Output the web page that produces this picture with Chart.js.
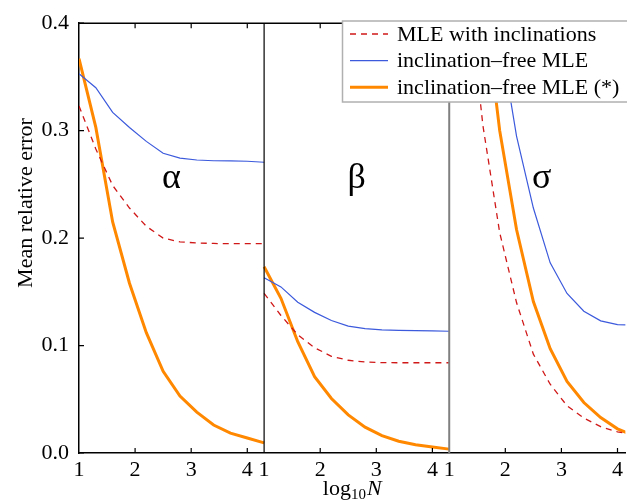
<!DOCTYPE html>
<html>
<head>
<meta charset="utf-8">
<script src="https://cdn.jsdelivr.net/npm/chart.js@4.4.1/dist/chart.umd.min.js"></script>
<style>
html, body { margin: 0; padding: 0; background: #fff; overflow: hidden; }
</style>
</head>
<body>
<canvas id="graph1" width="627" height="501"></canvas>
<script>
// log10 N sample points, same for every panel
var logN = [1, 1.3, 1.6, 1.9, 2.2, 2.5, 2.8, 3.1, 3.4, 3.7, 4.0, 4.3];
var xTicks = [1, 2, 3, 4];
var yTicks = [0, 0.1, 0.2, 0.3, 0.4];
var panelNames = ['α', 'β', 'σ'];
var seriesNames = ['MLE with inclinations', 'inclination–free MLE', 'inclination–free MLE (*)'];

var mleInclAlpha = [0.323, 0.283, 0.249, 0.228, 0.211, 0.200, 0.1965, 0.1955, 0.195, 0.1948, 0.1948, 0.1948];
var mleInclBeta = [0.1485, 0.128, 0.110, 0.098, 0.090, 0.0863, 0.0847, 0.0841, 0.084, 0.084, 0.084, 0.084];
var mleInclSigma = [0.62, 0.45, 0.305, 0.205, 0.140, 0.092, 0.064, 0.044, 0.0325, 0.0245, 0.0197, 0.017];

var freeAlpha = [0.353, 0.340, 0.317, 0.303, 0.290, 0.279, 0.2745, 0.2727, 0.272, 0.2718, 0.2715, 0.2706];
var freeBeta = [0.1631, 0.1546, 0.1403, 0.1309, 0.1233, 0.1181, 0.1157, 0.1145, 0.1142, 0.1139, 0.1136, 0.1133];
var freeSigma = [1.0, 0.75, 0.53, 0.39, 0.295, 0.228, 0.177, 0.1485, 0.132, 0.123, 0.1195, 0.119];

var freeStarAlpha = [0.367, 0.303, 0.215, 0.158, 0.112, 0.076, 0.053, 0.038, 0.026, 0.0185, 0.014, 0.0094];
var freeStarBeta = [0.1734, 0.144, 0.1036, 0.0711, 0.0507, 0.0355, 0.024, 0.0161, 0.0109, 0.0076, 0.0055, 0.0036];
var freeStarSigma = [0.75, 0.58, 0.43, 0.30, 0.208, 0.141, 0.097, 0.0665, 0.047, 0.033, 0.0225, 0.016];

var span = 3.3;              // each panel shows log10 N from 1 to 4.3
var xEnd = 2 * span + 3.14;  // last panel is cut by the page edge
var serif = '"Liberation Serif", "Times New Roman", serif';

function panelData(lists) {
  var pts = [];
  lists.forEach(function (vals, p) {
    vals.forEach(function (v, i) {
      pts.push({x: logN[i] - 1 + p * span, y: v});
    });
    pts.push({x: (p + 1) * span, y: null});
  });
  return pts;
}

function tickLabel(value) {
  var p = Math.floor(value / span + 1e-6);
  return String(Math.round(value - p * span + 1));
}

var framePlugin = {
  id: 'frame',
  afterDatasetsDraw: function (chart) {
    var ctx = chart.ctx, a = chart.chartArea;
    var xs = chart.scales.x, ys = chart.scales.y;
    ctx.save();

    // panel separators
    ctx.strokeStyle = '#000';
    ctx.lineWidth = 1.2;
    var s1 = xs.getPixelForValue(span);
    ctx.beginPath(); ctx.moveTo(s1, a.top); ctx.lineTo(s1, a.bottom); ctx.stroke();
    ctx.strokeStyle = '#808080';
    ctx.lineWidth = 2;
    var s2 = xs.getPixelForValue(2 * span);
    ctx.beginPath(); ctx.moveTo(s2, a.top); ctx.lineTo(s2, a.bottom); ctx.stroke();

    // top border
    ctx.strokeStyle = '#000';
    ctx.lineWidth = 1.5;
    ctx.beginPath(); ctx.moveTo(a.left, a.top); ctx.lineTo(a.right, a.top); ctx.stroke();

    // inward ticks
    ctx.lineWidth = 1.2;
    ctx.beginPath();
    for (var p = 0; p < 3; p++) {
      xTicks.forEach(function (t) {
        if (t === 1) return;
        var px = xs.getPixelForValue(t - 1 + p * span);
        if (px > a.right) return;
        ctx.moveTo(px, a.bottom); ctx.lineTo(px, a.bottom - 5);
        ctx.moveTo(px, a.top); ctx.lineTo(px, a.top + 5);
      });
    }
    yTicks.forEach(function (t) {
      var py = ys.getPixelForValue(t);
      ctx.moveTo(a.left, py); ctx.lineTo(a.left + 5, py);
    });
    ctx.stroke();

    // panel symbols
    ctx.fillStyle = '#000';
    ctx.font = '36px ' + serif;
    ctx.textAlign = 'center';
    ctx.textBaseline = 'alphabetic';
    panelNames.forEach(function (name, p) {
      ctx.fillText(name, xs.getPixelForValue(1.65 + p * span), ys.getPixelForValue(0.247));
    });

    // legend
    var lx = 342.5, ly = 21;
    ctx.fillStyle = '#fff';
    ctx.fillRect(lx, ly, 300, 81);
    ctx.strokeStyle = '#b0b0b0';
    ctx.lineWidth = 1.5;
    ctx.strokeRect(lx, ly, 300, 81);
    ctx.font = '22px ' + serif;
    ctx.textAlign = 'left';
    ctx.textBaseline = 'middle';
    chart.data.datasets.forEach(function (ds, i) {
      var ry = ly + 13 + i * 26.6;
      ctx.strokeStyle = ds.borderColor;
      ctx.lineWidth = ds.borderWidth;
      ctx.setLineDash(ds.borderDash || []);
      ctx.beginPath(); ctx.moveTo(lx + 7.5, ry); ctx.lineTo(lx + 45.5, ry); ctx.stroke();
      ctx.setLineDash([]);
      ctx.fillStyle = '#000';
      ctx.fillText(ds.label, lx + 54.5, ry + 1);
    });

    // y title
    ctx.save();
    ctx.translate(31.5, 203);
    ctx.rotate(-Math.PI / 2);
    ctx.textAlign = 'center';
    ctx.textBaseline = 'alphabetic';
    ctx.font = '22px ' + serif;
    ctx.fillText('Mean relative error', 0, 0);
    ctx.restore();

    // x title: log10 N
    var f1 = '22px ' + serif, f2 = '15px ' + serif, f3 = 'italic 22px ' + serif;
    ctx.textAlign = 'left';
    ctx.textBaseline = 'alphabetic';
    ctx.font = f1; var w1 = ctx.measureText('log').width;
    ctx.font = f2; var w2 = ctx.measureText('10').width;
    ctx.font = f3; var w3 = ctx.measureText('N').width;
    var x0 = (a.left + a.right) / 2 - (w1 + w2 + w3 + 1) / 2;
    var base = 495;
    ctx.font = f1; ctx.fillText('log', x0, base);
    ctx.font = f2; ctx.fillText('10', x0 + w1, base + 4);
    ctx.font = f3; ctx.fillText('N', x0 + w1 + w2 + 1, base);

    ctx.restore();
  }
};

var graph1 = document.getElementById('graph1').getContext('2d');
var chart = new Chart(graph1, {
  type: 'line',
  data: {
    datasets: [{
      label: seriesNames[0],
      data: panelData([mleInclAlpha, mleInclBeta, mleInclSigma]),
      borderColor: '#d01818',
      borderWidth: 1.3,
      borderDash: [6, 5]
    }, {
      label: seriesNames[1],
      data: panelData([freeAlpha, freeBeta, freeSigma]),
      borderColor: '#3c5adc',
      borderWidth: 1.2
    }, {
      label: seriesNames[2],
      data: panelData([freeStarAlpha, freeStarBeta, freeStarSigma]),
      borderColor: '#ff8800',
      borderWidth: 3
    }]
  },
  options: {
    responsive: false,
    animation: false,
    spanGaps: false,
    elements: { point: { radius: 0 }, line: { tension: 0, fill: false } },
    layout: { padding: { top: 14, right: 0, left: 0, bottom: 0 } },
    scales: {
      x: {
        type: 'linear',
        min: 0,
        max: xEnd,
        grid: { display: false, drawTicks: false },
        border: { display: true, color: '#000', width: 1.5 },
        afterBuildTicks: function (scale) {
          var list = [];
          for (var p = 0; p < 3; p++) {
            xTicks.forEach(function (t) {
              var v = t - 1 + p * span;
              if (v <= xEnd) list.push({value: v});
            });
          }
          scale.ticks = list;
        },
        afterFit: function (scale) { scale.height = 48; },
        ticks: {
          autoSkip: false,
          maxRotation: 0,
          padding: 4,
          color: '#000',
          font: { family: serif, size: 22 },
          callback: tickLabel
        }
      },
      y: {
        min: 0,
        max: 0.4,
        grid: { display: false, drawTicks: false },
        border: { display: true, color: '#000', width: 1.5 },
        afterBuildTicks: function (scale) {
          scale.ticks = yTicks.map(function (v) { return {value: v}; });
        },
        afterFit: function (scale) { scale.width = 79; },
        ticks: {
          padding: 10,
          color: '#000',
          font: { family: serif, size: 22 },
          callback: function (v) { return v.toFixed(1); }
        }
      }
    },
    plugins: {
      legend: { display: false },
      tooltip: { enabled: false }
    }
  },
  plugins: [framePlugin]
});
</script>
</body>
</html>
